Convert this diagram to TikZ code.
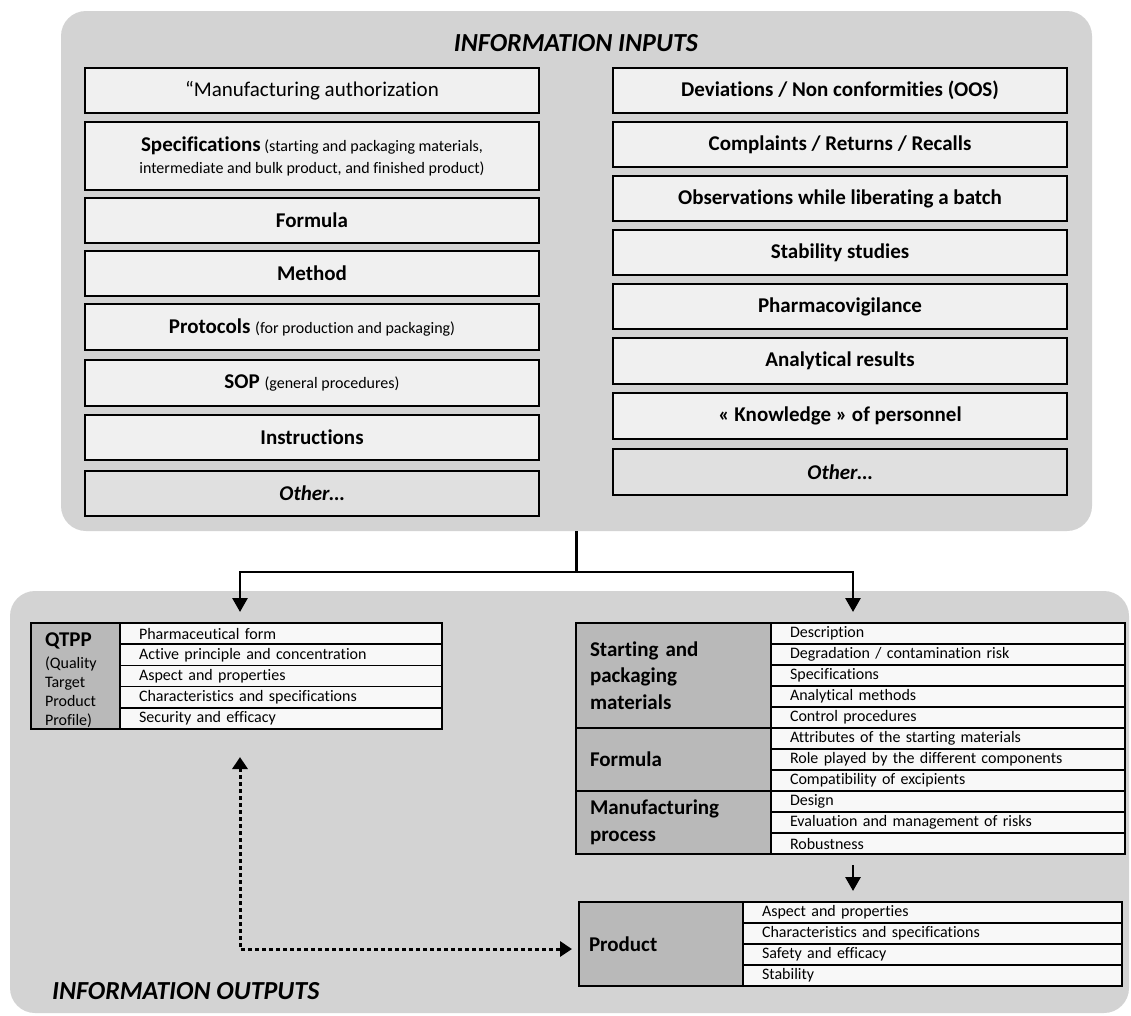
\documentclass[tikz,border=0pt]{standalone}
\usepackage{fontspec}
\setmainfont{Carlito}[Ligatures=NoCommon]
\usetikzlibrary{arrows.meta,calc}
\definecolor{panelgray}{HTML}{D3D3D3}
\definecolor{boxfill}{HTML}{F0F0F0}
\definecolor{otherfill}{HTML}{E0E0E0}
\definecolor{hdrfill}{HTML}{B9B9B9}
\definecolor{cellfill}{HTML}{F8F8F8}
\begin{document}
\begin{tikzpicture}[x=1pt,y=-1pt,
  panel/.style={fill=panelgray, rounded corners=25pt, inner sep=0pt, outer sep=0pt, anchor=north west},
  inbox/.style={draw=black, line width=2.4pt, fill=boxfill, anchor=north west, minimum width=454pt,
     inner sep=0pt, outer sep=0pt, align=center, font=\fontsize{21}{24}\selectfont\bfseries},
  otherbox/.style={inbox, fill=otherfill, font=\fontsize{21}{24}\selectfont\bfseries\itshape},
  small/.style={font=\fontsize{16}{22}\selectfont},
  cellbase/.style={draw=black, line width=1.5pt, fill=cellfill, anchor=north west, inner ysep=0pt,
     inner xsep=19pt, outer sep=0pt, align=left, font=\fontsize{16}{19}\selectfont},
  qcell/.style={cellbase, minimum width=322pt, text width=284pt, minimum height=21.2pt},
  bcell/.style={cellbase, minimum width=354pt, text width=316pt, minimum height=21pt},
  pcell/.style={cellbase, minimum width=379pt, text width=341pt, minimum height=21pt},
  hdr/.style={draw=black, line width=1.5pt, fill=hdrfill, anchor=north west, inner ysep=0pt,
     inner xsep=14pt, outer sep=0pt, align=left, font=\fontsize{21}{26.5}\selectfont\bfseries},
  outer/.style={draw=black, line width=2.6pt},
  conn/.style={draw=black, line width=2.8pt},
  tip/.style={-{Triangle[width=15pt,length=14pt]}},
  dots/.style={draw=black, line width=3pt, dash pattern=on 3.5pt off 3.5pt,
     {Triangle[width=15pt,length=12pt]}-{Triangle[width=15pt,length=12pt]}},
  ttl/.style={font=\fontsize{26}{30}\selectfont\bfseries\itshape, inner sep=0pt}
]
\useasboundingbox (0,0) rectangle (1131,1015);

% panels
\node[panel, minimum width=1031pt, minimum height=520pt] (inpanel) at (61,11) {};
\node[panel, minimum width=1119pt, minimum height=422pt] (outpanel) at (10,591) {};

\node[ttl] (intitle) at (576,43) {INFORMATION INPUTS};
\node[ttl, anchor=west] (outtitle) at (52,991.5) {INFORMATION OUTPUTS};

% left input boxes
\node[inbox, minimum height=45pt, font=\fontsize{21}{24}\selectfont] (l1) at (85,68) {“Manufacturing authorization};
\node[inbox, minimum height=68pt, small] (l2) at (85,122)
  {{\fontsize{21}{22}\selectfont\bfseries Specifications} (starting and packaging materials,\\intermediate and bulk product, and finished product)};
\node[inbox, minimum height=45pt] (l3) at (85,198) {Formula};
\node[inbox, minimum height=45pt] (l4) at (85,251) {Method};
\node[inbox, minimum height=46pt] (l5) at (85,304) {Protocols {\fontsize{16}{19}\selectfont\mdseries (for production and packaging)}};
\node[inbox, minimum height=46pt] (l6) at (85,360) {SOP {\fontsize{16}{19}\selectfont\mdseries (general procedures)}};
\node[inbox, minimum height=45pt] (l7) at (85,415) {Instructions};
\node[otherbox, minimum height=45pt] (l8) at (85,471) {Other…};

% right input boxes
\node[inbox, minimum height=45pt] (r1) at (613,68) {Deviations / Non conformities (OOS)};
\node[inbox, minimum height=45pt] (r2) at (613,122) {Complaints / Returns / Recalls};
\node[inbox, minimum height=45pt] (r3) at (613,176) {Observations while liberating a batch};
\node[inbox, minimum height=45pt] (r4) at (613,230) {Stability studies};
\node[inbox, minimum height=45pt] (r5) at (613,284) {Pharmacovigilance};
\node[inbox, minimum height=46pt] (r6) at (613,338) {Analytical results};
\node[inbox, minimum height=46pt] (r7) at (613,393) {« Knowledge » of personnel};
\node[otherbox, minimum height=46pt] (r8) at (613,449) {Other…};

% QTPP table
\node[hdr, minimum width=89pt, text width=61pt, minimum height=106pt, font=\fontsize{16}{19}\selectfont] (qh) at (31,623)
  {\rule{0pt}{22pt}{\fontsize{21}{21}\selectfont\bfseries QTPP}\\[3pt](Quality\\Target\\Product\\Profile)};
\foreach \txt [count=\i] in {Pharmaceutical form, Active principle and concentration, Aspect and properties,
   Characteristics and specifications, Security and efficacy}
  \node[qcell] (q\i) at (120,{623+21.2*(\i-1)}) {\txt};
\draw[outer] (qh.north west) rectangle (q5.south east);

% big table
\node[hdr, minimum width=195pt, text width=167pt, minimum height=105pt] (sh) at (576,623)
  {Starting and\\packaging\\materials};
\node[hdr, minimum width=195pt, text width=167pt, minimum height=63pt] (fh) at (576,728) {Formula};
\node[hdr, minimum width=195pt, text width=167pt, minimum height=63pt] (mh) at (576,791)
  {Manufacturing\\process};
\foreach \txt [count=\i] in {Description, Degradation / contamination risk, Specifications, Analytical methods,
   Control procedures, Attributes of the starting materials, Role played by the different components,
   Compatibility of excipients, Design, Evaluation and management of risks, Robustness}
  \node[bcell] (b\i) at (771,{623+21*(\i-1)}) {\txt};
\draw[outer] (sh.north west) rectangle (b11.south east);
\draw[outer] (sh.south west) -- (sh.south east);
\draw[outer] (fh.south west) -- (fh.south east);

% product table
\node[hdr, minimum width=164pt, text width=144pt, inner xsep=10pt, minimum height=84pt] (ph) at (579,902) {Product};
\foreach \txt [count=\i] in {Aspect and properties, Characteristics and specifications, Safety and efficacy, Stability}
  \node[pcell] (p\i) at (743,{902+21*(\i-1)}) {\txt};
\draw[outer] (ph.north west) rectangle (p4.south east);

% connectors
\coordinate (split) at ($(inpanel.south)+(0,41)$);
\coordinate (qa) at ($(qh.north west)+(209,-11)$);
\coordinate (ba) at ($(sh.north west)+(277,-11)$);
\draw[conn] (inpanel.south) -- (split);
\draw[conn, tip] (split) -| (qa);
\draw[conn, tip] (split) -| (ba);

\coordinate (mb) at ($(mh.south west)+(277,11)$);
\coordinate (pt) at ($(ph.north west)+(274,-11)$);
\draw[conn, tip] (mb) -- (pt);

\coordinate (dA) at ($(qh.south west)+(209,28)$);
\coordinate (dB) at ($(ph.west)+(-7,5)$);
\draw[dots] (dA) |- (dB);
\end{tikzpicture}
\end{document}
